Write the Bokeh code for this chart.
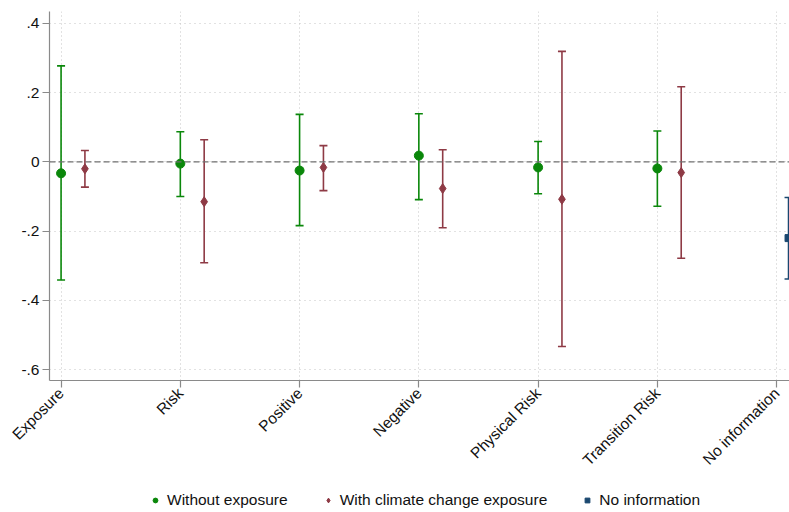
import math
from bokeh.plotting import figure
from bokeh.layouts import column
from bokeh.models import (ColumnDataSource, Whisker, TeeHead, Span, FixedTicker,
                          Range1d, Legend, LegendItem)
from bokeh.embed import file_html
from bokeh.resources import INLINE

categories = ["Exposure", "Risk", "Positive", "Negative", "Physical Risk",
              "Transition Risk", "No information"]

without_est = [-0.033, -0.005, -0.025, 0.018, -0.016, -0.019]
without_lo = [-0.341, -0.100, -0.184, -0.109, -0.092, -0.128]
without_hi = [0.277, 0.087, 0.137, 0.139, 0.059, 0.089]

with_est = [-0.020, -0.115, -0.016, -0.077, -0.108, -0.031]
with_lo = [-0.073, -0.291, -0.083, -0.190, -0.533, -0.278]
with_hi = [0.033, 0.064, 0.047, 0.035, 0.319, 0.217]

noinfo_est = [-0.220]
noinfo_lo = [-0.338]
noinfo_hi = [-0.103]

series_names = ["Without exposure", "With climate change exposure", "No information"]

y_ticks = [0.4, 0.2, 0.0, -0.2, -0.4, -0.6]
y_tick_labels = [".4", ".2", "0", "-.2", "-.4", "-.6"]

GREEN = "#0a870a"
RED = "#8e3a45"
BLUE = "#1a476f"
FONT = "Liberation Sans"

pos = list(range(1, len(categories) + 1))
src_g = ColumnDataSource(dict(x=[pos[i] for i in range(6)], y=without_est,
                              lo=without_lo, hi=without_hi))
src_r = ColumnDataSource(dict(x=[pos[i] + 0.2 for i in range(6)], y=with_est,
                              lo=with_lo, hi=with_hi))
src_b = ColumnDataSource(dict(x=[pos[6] + 0.1], y=noinfo_est,
                              lo=noinfo_lo, hi=noinfo_hi))

p = figure(frame_width=740, frame_height=369, output_backend="svg",
           toolbar_location=None,
           x_range=Range1d(0.903, 7.108), y_range=Range1d(-0.631, 0.434),
           min_border_left=49, min_border_right=0, min_border_top=11,
           min_border_bottom=0)
p.outline_line_color = None
p.background_fill_color = "white"
p.border_fill_color = "white"

# grid
p.ygrid.ticker = FixedTicker(ticks=y_ticks)
p.ygrid.grid_line_color = "#c4c4c4"
p.ygrid.grid_line_dash = "1 4"
p.xgrid.grid_line_color = "#c4c4c4"
p.xgrid.grid_line_dash = "1 3"

# axes
p.yaxis.ticker = FixedTicker(ticks=y_ticks)
p.yaxis.major_label_overrides = {t: l for t, l in zip(y_ticks, y_tick_labels)}
p.xaxis.ticker = FixedTicker(ticks=pos)
p.xaxis.major_label_overrides = {x: c for x, c in zip(pos, categories)}
p.xaxis.major_label_orientation = math.pi / 4
for ax in (p.xaxis, p.yaxis):
    ax.axis_line_color = "#8a8a8a"
    ax.axis_line_width = 1.2
    ax.major_tick_line_color = "#8a8a8a"
    ax.major_tick_line_width = 1.2
    ax.major_tick_in = 0
    ax.major_tick_out = 7
    ax.minor_tick_line_color = None
    ax.major_label_text_font = FONT
    ax.major_label_text_font_size = "15.5px"
    ax.major_label_text_color = "#111111"
    ax.major_label_standoff = 3

zero = Span(location=0, dimension="width", line_color="#707070",
            line_dash="6 3", line_width=1.2)
p.add_layout(zero)

sources = [src_g, src_r, src_b]
colors = [GREEN, RED, BLUE]
markers = ["circle", "diamond", "square"]
sizes = [9, 10, 7]

for src, color, marker, size in zip(sources, colors, markers, sizes):
    w = Whisker(base="x", lower="lo", upper="hi", source=src,
                line_color=color, line_width=1.6,
                lower_head=TeeHead(size=8, line_color=color, line_width=1.6),
                upper_head=TeeHead(size=8, line_color=color, line_width=1.6))
    p.add_layout(w)
    p.scatter("x", "y", source=src, marker=marker, size=size,
              fill_color=color, line_color=color)

# legend row below the chart (same sources; its ranges show no data points)
lg = figure(width=789, height=32, output_backend="svg", toolbar_location=None,
            x_axis_type=None, y_axis_type=None,
            x_range=Range1d(0, 1), y_range=Range1d(10, 11), min_border=0)
lg.grid.visible = False
lg.outline_line_color = None
items = []
for name, src, color, marker, size in zip(series_names, sources, colors,
                                          markers, [8, 9, 7]):
    r = lg.scatter("x", "y", source=src, marker=marker, size=size,
                   fill_color=color, line_color=color)
    items.append(LegendItem(label=name, renderers=[r]))
legend = Legend(items=items, orientation="horizontal", location=(100, 0),
                border_line_color=None, background_fill_alpha=0,
                label_text_font=FONT, label_text_font_size="15.5px",
                label_text_color="#111111",
                glyph_width=12, glyph_height=12, label_standoff=6,
                spacing=34, padding=0, margin=0)
lg.add_layout(legend, "center")

open("out.html", "w").write(file_html(column(p, lg), INLINE))
